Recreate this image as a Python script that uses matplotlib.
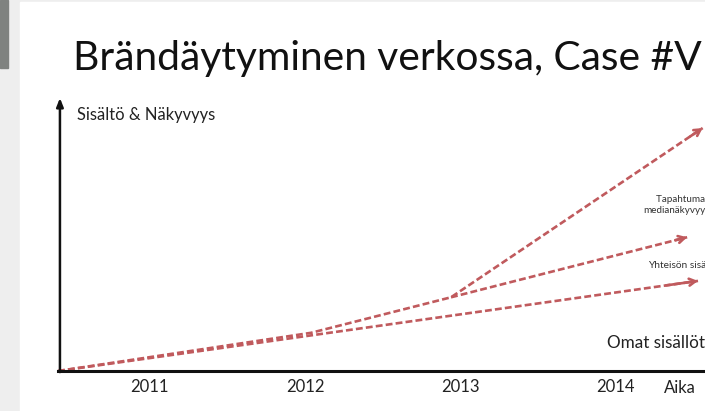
import matplotlib
matplotlib.use("Agg")
import matplotlib.pyplot as plt
from matplotlib.patches import Rectangle

# data (x in years, y on a 0-100 visibility scale)
tick_years = [2011, 2012, 2013, 2014]
tick_labels = ["2011", "2012", "2013", "2014"]

tapahtumat_x = [2010.41, 2012.04, 2012.94, 2014.56]
tapahtumat_y = [0, 14, 27, 89]
yhteiso_x = [2012.94, 2014.46]
yhteiso_y = [27, 49]
omat_x = [2010.41, 2014.53]
omat_y = [0, 33]

FONT = ["Lato", "DejaVu Sans"]
RED = "#c05a5d"


def dashed_arrow(ax, xs, ys):
    ax.plot(xs, ys, color=RED, lw=1.9, dashes=(2.6, 1.2), clip_on=False,
            dash_capstyle="butt")
    # short solid piece at the end just for the head
    tx = xs[-1] + 0.05 * (xs[-2] - xs[-1])
    ty = ys[-1] + 0.05 * (ys[-2] - ys[-1])
    ax.annotate("", xy=(xs[-1], ys[-1]), xytext=(tx, ty),
                arrowprops=dict(arrowstyle="->,head_length=0.45,head_width=0.25",
                                color=RED, lw=1.9, shrinkA=0, shrinkB=0),
                annotation_clip=False)


def main():
    fig = plt.figure(figsize=(7.05, 4.11), dpi=100, facecolor="#eeeeee")

    # slide background
    fig.patches.append(Rectangle((20 / 705, 0), 1, 409 / 411, transform=fig.transFigure,
                                 color="white", zorder=-2))
    fig.patches.append(Rectangle((0, 1 - 68 / 411), 8 / 705, 68 / 411,
                                 transform=fig.transFigure, color="#7f8280", zorder=-2))

    ax = fig.add_axes([58 / 705, 40 / 411, 647 / 705, 273 / 411])
    ax.set_facecolor("none")
    ax.set_xlim(2010.41, 2014.575)
    ax.set_ylim(0, 100)

    for s in ["top", "right", "left"]:
        ax.spines[s].set_visible(False)
    ax.spines["bottom"].set_linewidth(2.2)
    ax.spines["bottom"].set_color("#111111")

    # y axis with arrow on top
    ax.annotate("", xy=(0.003, 1.0), xytext=(0.003, -0.004), xycoords="axes fraction",
                arrowprops=dict(arrowstyle="-|>,head_length=0.5,head_width=0.2",
                                color="#111111", lw=1.8, shrinkA=0, shrinkB=0))

    ax.set_yticks([])
    ax.set_xticks(tick_years)
    ax.set_xticklabels(tick_labels, family=FONT, fontsize=12, color="#222222")
    ax.tick_params(axis="x", length=0, pad=6)

    dashed_arrow(ax, omat_x, omat_y)
    dashed_arrow(ax, yhteiso_x, yhteiso_y)
    dashed_arrow(ax, tapahtumat_x, tapahtumat_y)

    fig.text(73 / 705, 1 - 70 / 411, "Brändäytyminen verkossa, Case #V", family=FONT,
             fontsize=29.3, color="#111111", va="baseline", ha="left")
    fig.text(77 / 705, 1 - 115 / 411, "Sisältö & Näkyvyys", family=FONT,
             fontsize=11.9, color="#222222", va="center", ha="left")
    fig.text(607 / 705, 1 - 343 / 411, "Omat sisällöt", family=FONT,
             fontsize=12.3, color="#222222", va="center", ha="left")
    fig.text(680 / 705, 1 - 388 / 411, "Aika", family=FONT,
             fontsize=12, color="#222222", va="center", ha="center")
    fig.text(656 / 705, 1 - 199 / 411, "Tapahtumat &", family=FONT,
             fontsize=7.1, color="#333333", va="center", ha="left")
    fig.text(643 / 705, 1 - 210 / 411, "medianäkyvyys", family=FONT,
             fontsize=7.1, color="#333333", va="center", ha="left")
    fig.text(648 / 705, 1 - 265 / 411, "Yhteisön sisällöt", family=FONT,
             fontsize=7.3, color="#333333", va="center", ha="left")

    fig.savefig("out.png", dpi=100, facecolor=fig.get_facecolor())


if __name__ == "__main__":
    main()
